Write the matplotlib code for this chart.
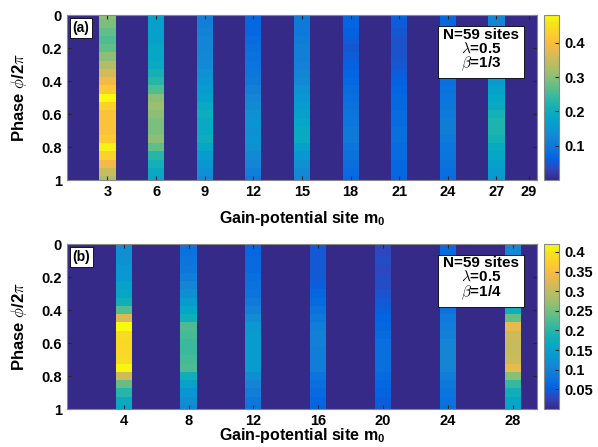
import numpy as np
import matplotlib
matplotlib.use("Agg")
import matplotlib.pyplot as plt
from matplotlib.colors import LinearSegmentedColormap
from matplotlib.ticker import FuncFormatter

plt.rcParams['font.family'] = ['Liberation Sans', 'DejaVu Sans']
plt.rcParams['font.weight'] = 'bold'
plt.rcParams['mathtext.fontset'] = 'cm'
plt.rcParams['mathtext.rm'] = 'Liberation Sans:bold'
plt.rcParams['mathtext.bf'] = 'Liberation Sans:bold'

# phase grid (phi / 2pi)
phase = [0.00, 0.05, 0.10, 0.15, 0.20, 0.25, 0.30, 0.35, 0.40, 0.45, 0.50,
         0.55, 0.60, 0.65, 0.70, 0.75, 0.80, 0.85, 0.90, 0.95, 1.00]
n_sites = 29

# panel (a): beta = 1/3
sites_a = [3, 6, 9, 12, 15, 18, 21, 24, 27]
amp_a = [
    [0.30, 0.29, 0.27, 0.26, 0.27, 0.30, 0.33, 0.36, 0.39, 0.42, 0.48,
     0.43, 0.41, 0.41, 0.41, 0.42, 0.47, 0.43, 0.39, 0.35, 0.33],
    [0.17, 0.17, 0.17, 0.17, 0.18, 0.18, 0.19, 0.21, 0.23, 0.26, 0.30,
     0.31, 0.30, 0.29, 0.29, 0.30, 0.27, 0.23, 0.21, 0.19, 0.18],
    [0.11, 0.11, 0.115, 0.12, 0.12, 0.125, 0.13, 0.14, 0.15, 0.16, 0.17,
     0.19, 0.20, 0.19, 0.19, 0.20, 0.18, 0.16, 0.15, 0.14, 0.13],
    [0.07, 0.07, 0.07, 0.075, 0.08, 0.085, 0.09, 0.095, 0.10, 0.11, 0.12,
     0.13, 0.14, 0.145, 0.14, 0.145, 0.14, 0.13, 0.12, 0.11, 0.10],
    [0.10, 0.10, 0.10, 0.105, 0.11, 0.11, 0.115, 0.12, 0.13, 0.14, 0.15,
     0.16, 0.17, 0.18, 0.19, 0.19, 0.17, 0.15, 0.14, 0.13, 0.12],
    [0.065, 0.065, 0.06, 0.055, 0.05, 0.055, 0.06, 0.065, 0.07, 0.075, 0.08,
     0.085, 0.09, 0.095, 0.10, 0.10, 0.09, 0.085, 0.08, 0.075, 0.07],
    [0.06, 0.055, 0.05, 0.045, 0.045, 0.045, 0.05, 0.055, 0.06, 0.065, 0.07,
     0.07, 0.075, 0.075, 0.08, 0.08, 0.075, 0.075, 0.07, 0.07, 0.065],
    [0.07, 0.07, 0.07, 0.07, 0.07, 0.07, 0.072, 0.075, 0.08, 0.085, 0.09,
     0.095, 0.10, 0.105, 0.105, 0.10, 0.095, 0.09, 0.085, 0.08, 0.075],
    [0.12, 0.12, 0.12, 0.125, 0.13, 0.135, 0.14, 0.15, 0.16, 0.17, 0.18,
     0.19, 0.21, 0.22, 0.22, 0.21, 0.19, 0.18, 0.17, 0.16, 0.15],
]
xticks_a = [3, 6, 9, 12, 15, 18, 21, 24, 27, 29]
cticks_a = [0.1, 0.2, 0.3, 0.4]

# panel (b): beta = 1/4
sites_b = [4, 8, 12, 16, 20, 24, 28]
amp_b = [
    [0.12, 0.12, 0.125, 0.13, 0.135, 0.15, 0.16, 0.18, 0.23, 0.32, 0.42,
     0.39, 0.385, 0.385, 0.39, 0.415, 0.31, 0.24, 0.20, 0.17, 0.16],
    [0.075, 0.075, 0.08, 0.085, 0.095, 0.105, 0.12, 0.14, 0.16, 0.18, 0.225,
     0.22, 0.215, 0.215, 0.22, 0.225, 0.18, 0.15, 0.13, 0.12, 0.11],
    [0.06, 0.06, 0.065, 0.065, 0.07, 0.075, 0.08, 0.09, 0.10, 0.115, 0.135,
     0.14, 0.14, 0.14, 0.14, 0.14, 0.12, 0.105, 0.095, 0.085, 0.08],
    [0.045, 0.045, 0.045, 0.045, 0.045, 0.05, 0.06, 0.065, 0.075, 0.085, 0.095,
     0.10, 0.10, 0.095, 0.095, 0.095, 0.08, 0.07, 0.065, 0.06, 0.055],
    [0.03, 0.03, 0.035, 0.03, 0.035, 0.035, 0.04, 0.045, 0.05, 0.055, 0.06,
     0.065, 0.07, 0.07, 0.07, 0.07, 0.065, 0.06, 0.055, 0.05, 0.045],
    [0.065, 0.065, 0.065, 0.065, 0.065, 0.065, 0.07, 0.075, 0.08, 0.09, 0.095,
     0.10, 0.105, 0.105, 0.105, 0.105, 0.095, 0.085, 0.08, 0.075, 0.07],
    [0.11, 0.11, 0.115, 0.12, 0.125, 0.13, 0.14, 0.155, 0.18, 0.24, 0.33,
     0.31, 0.305, 0.305, 0.31, 0.33, 0.26, 0.21, 0.18, 0.16, 0.15],
]
xticks_b = [4, 8, 12, 16, 20, 24, 28]
cticks_b = [0.05, 0.1, 0.15, 0.2, 0.25, 0.3, 0.35, 0.4]

# MATLAB parula (subsampled)
parula_rgb = [
    (0.2081, 0.1663, 0.5292), (0.1959, 0.2645, 0.7279), (0.0117, 0.3875, 0.8820),
    (0.0498, 0.4586, 0.8641), (0.0793, 0.5200, 0.8312), (0.0343, 0.5966, 0.8199),
    (0.0228, 0.6535, 0.7768), (0.0843, 0.6928, 0.7062), (0.2178, 0.7250, 0.6193),
    (0.3953, 0.7459, 0.5244), (0.5709, 0.7485, 0.4494), (0.7184, 0.7411, 0.3905),
    (0.8507, 0.7299, 0.3360), (0.9739, 0.7314, 0.2666), (0.9880, 0.8066, 0.1794),
    (0.9589, 0.8949, 0.1132), (0.9763, 0.9831, 0.0538)]
parula_pos = [0, 4, 8, 12, 16, 20, 24, 28, 32, 36, 40, 44, 48, 52, 56, 60, 63]
parula = LinearSegmentedColormap.from_list(
    'parula', list(zip([p / 63 for p in parula_pos], parula_rgb)))

fmt = FuncFormatter(lambda v, p: '%g' % v)


def panel(ax, cax, sites, amps, xticks, cticks, tag, beta, labelpad):
    ph = np.array(phase)
    z = np.zeros((len(ph), n_sites))
    for s, a in zip(sites, amps):
        z[:, s - 1] = a
    xe = np.arange(n_sites + 1) + 0.5
    step = ph[1] - ph[0]
    ye = np.concatenate([ph - step / 2, [ph[-1] + step / 2]])
    mesh = ax.pcolormesh(xe, ye, z, cmap=parula, vmin=0, vmax=z.max())
    ax.set_xlim(0.5, n_sites + 0.5)
    ax.set_ylim(1, 0)
    ax.set_xticks(xticks)
    ax.set_yticks([0, 0.2, 0.4, 0.6, 0.8, 1])
    ax.yaxis.set_major_formatter(fmt)
    ax.tick_params(direction='in', length=3, labelsize=10.5, color='#262626',
                   top=True, right=True)
    for sp in ax.spines.values():
        sp.set_color('#888888')
    ax.set_ylabel(r'Phase $\phi$/2$\pi$', fontsize=12, fontweight='bold',
                  labelpad=9)
    ax.set_xlabel('Gain-potential site m$_0$', fontsize=11.5,
                  fontweight='bold', labelpad=labelpad, math_fontfamily='custom')
    ax.text(0.012, 0.965, tag, transform=ax.transAxes, fontsize=10,
            fontweight='bold', va='top', ha='left',
            bbox=dict(boxstyle='square,pad=0.2', fc='white', ec='black', lw=0.6))
    ax.text(0.881, 0.925, 'N=59 sites\n$\\lambda$=0.5\n$\\beta$=' + beta,
            transform=ax.transAxes, fontsize=11, fontweight='bold',
            va='top', ha='center', linespacing=0.95,
            bbox=dict(boxstyle='square,pad=0.3', fc='white', ec='black', lw=0.6))
    cb = plt.colorbar(mesh, cax=cax)
    cb.set_ticks(cticks)
    cb.ax.yaxis.set_major_formatter(fmt)
    cb.ax.tick_params(direction='in', length=3, labelsize=10.5, color='#262626')
    cb.outline.set_edgecolor('#888888')


fig = plt.figure(figsize=(5.98, 4.47), dpi=100)
ax_a = fig.add_axes([0.112, 0.597, 0.786, 0.369])
cax_a = fig.add_axes([0.910, 0.597, 0.025, 0.369])
ax_b = fig.add_axes([0.112, 0.085, 0.786, 0.369])
cax_b = fig.add_axes([0.910, 0.085, 0.025, 0.369])

panel(ax_a, cax_a, sites_a, amp_a, xticks_a, cticks_a, '(a)', '1/3', 7)
panel(ax_b, cax_b, sites_b, amp_b, xticks_b, cticks_b, '(b)', '1/4', -1)

fig.savefig('out.png', dpi=100)
